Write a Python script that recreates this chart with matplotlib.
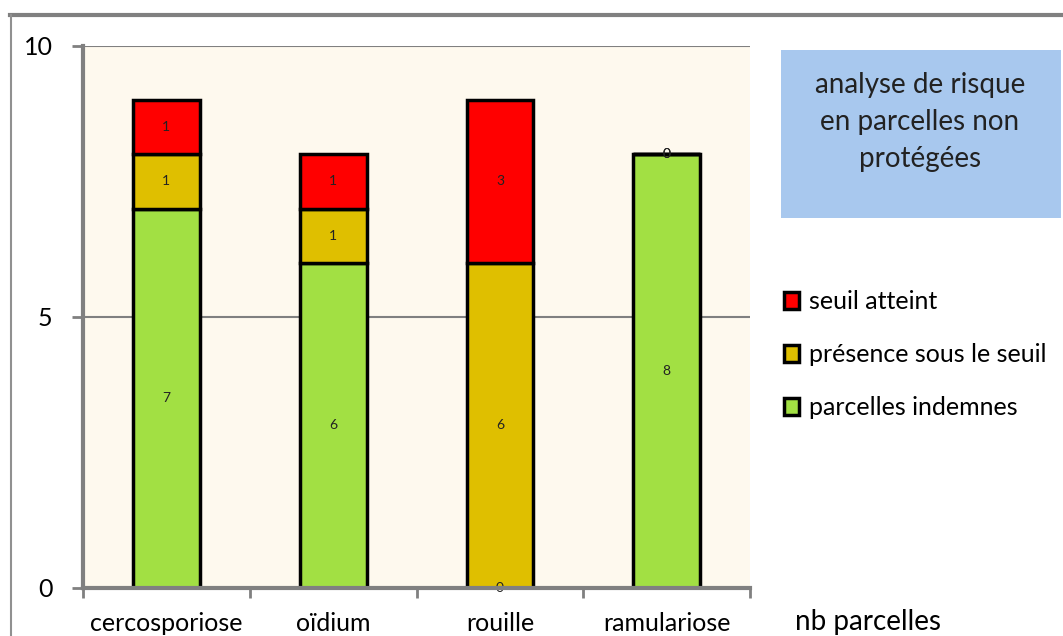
import matplotlib.pyplot as plt
import numpy as np
from matplotlib.patches import Rectangle
from matplotlib.lines import Line2D

plt.rcParams['font.family'] = ['Lato', 'DejaVu Sans']

# data
maladies = ['cercosporiose', 'oïdium', 'rouille', 'ramulariose']
indemnes = [7, 6, 0, 8]
presence = [1, 1, 6, 0]
seuil = [1, 1, 3, 0]

series = [
    ('parcelles indemnes', indemnes, '#A2E043'),
    ('présence sous le seuil', presence, '#DFBF00'),
    ('seuil atteint', seuil, '#FF0000'),
]

fig = plt.figure(figsize=(10.63, 6.36), dpi=100)
ax = fig.add_axes([0.0781, 0.0755, 0.6275, 0.8522])
ax.set_facecolor('#FEF9EE')

x = np.arange(len(maladies))
bottom = np.zeros(len(maladies))
handles = {}
for name, vals, col in series:
    vals = np.array(vals, dtype=float)
    bars = ax.bar(x, vals, 0.4, bottom=bottom, color=col,
                  edgecolor='black', linewidth=2.5, zorder=3)
    handles[name] = bars
    for xi, b, v in zip(x, bottom, vals):
        ax.text(xi, b + v / 2, '%d' % v, ha='center', va='center',
                fontsize=10, color='#222222', zorder=4)
    bottom += vals

ax.set_xlim(-0.5, len(maladies) - 0.5)
ax.set_ylim(0, 10)
ax.set_yticks([0, 5, 10])
ax.set_yticklabels(['0', '5', '10'], fontsize=18)
ax.yaxis.grid(True, color='#808080', linewidth=1.5, zorder=1)
ax.tick_params(axis='y', length=8, width=2, color='#808080', pad=14)

ax.set_xticks(x)
ax.set_xticklabels(maladies, fontsize=18)
ax.set_xticks(np.arange(len(maladies) + 1) - 0.5, minor=True)
ax.tick_params(axis='x', which='major', length=0, pad=17)
ax.tick_params(axis='x', which='minor', length=7, width=2, color='#808080')

for s in ['top', 'right']:
    ax.spines[s].set_visible(False)
for s in ['left', 'bottom']:
    ax.spines[s].set_color('#808080')
    ax.spines[s].set_linewidth(3)
    ax.spines[s].set_zorder(5)

# title box
fig.add_artist(Rectangle((781 / 1063, 1 - 218 / 636), 280 / 1063, 168 / 636,
                         transform=fig.transFigure, facecolor='#A8C8EE',
                         edgecolor='none'))
fig.text(920 / 1063, 1 - 122 / 636, 'analyse de risque\nen parcelles non\nprotégées',
         ha='center', va='center', fontsize=20, linespacing=1.5, color='#222222')

order = ['seuil atteint', 'présence sous le seuil', 'parcelles indemnes']
fig.legend([handles[n] for n in order], order, loc='upper left',
           bbox_to_anchor=(774 / 1063, 1 - 280 / 636), frameon=False,
           fontsize=18, labelspacing=1.2, handlelength=0.6, handleheight=0.7,
           handletextpad=0.4, borderaxespad=0)

fig.text(795 / 1063, 1 - 622 / 636, 'nb parcelles', ha='left', va='center', fontsize=20)

# outer frame of the chart
fig.add_artist(Line2D([10 / 1063, 1], [1 - 15 / 636] * 2, transform=fig.transFigure,
                      color='#808080', linewidth=3))
fig.add_artist(Line2D([11 / 1063] * 2, [0, 1 - 15 / 636], transform=fig.transFigure,
                      color='#909090', linewidth=1.5))

fig.savefig('out.png', dpi=100)
